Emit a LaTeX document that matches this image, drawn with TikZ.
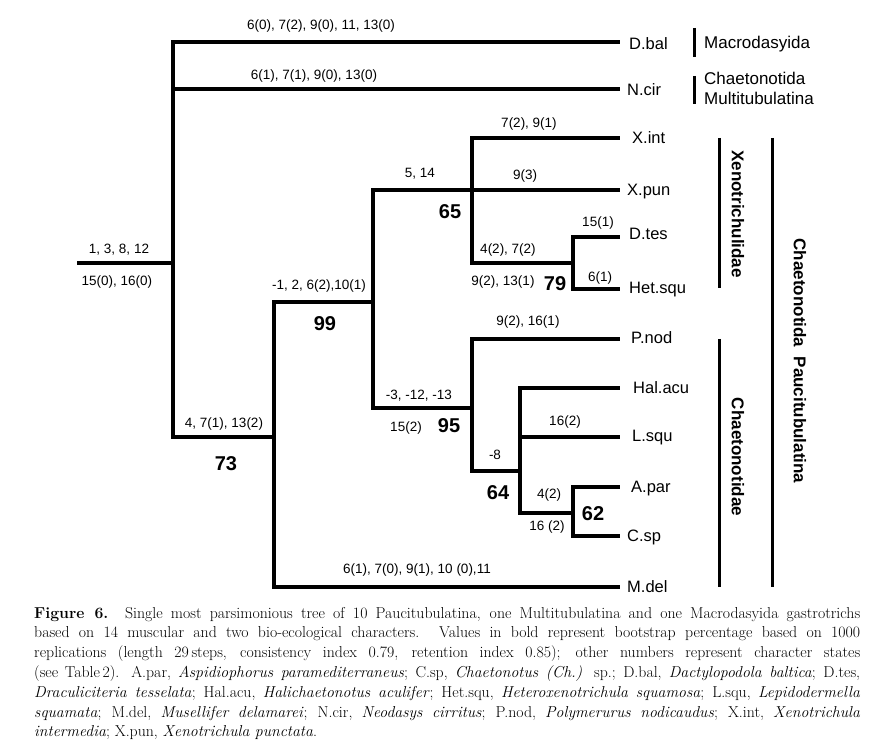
\documentclass[tikz,border=0pt]{standalone}
\usepackage{fontspec}
\newfontfamily\arialf{Liberation Sans}
\tikzset{
  br/.style={line width=3.6pt},
  bar/.style={line width=3pt},
  chr/.style={font=\arialf\fontsize{13.5}{16}\selectfont, inner sep=0pt, text height=9.7pt, text depth=0pt},
  boot/.style={font=\arialf\bfseries\fontsize{20}{24}\selectfont, inner sep=0pt, text height=14.3pt, text depth=0pt},
  taxon/.style={font=\arialf\fontsize{16.5}{20}\selectfont, anchor=west, inner sep=0pt, text height=11.8pt, text depth=0pt},
  grp/.style={font=\arialf\fontsize{17}{20}\selectfont, anchor=west, inner sep=0pt, text height=12.2pt, text depth=0pt},
  vgrp/.style={font=\arialf\bfseries\fontsize{17}{20}\selectfont, rotate=-90, inner sep=0pt, text height=12.2pt, text depth=0pt},
}
\begin{document}
\begin{tikzpicture}[x=1pt,y=-1pt]
\useasboundingbox (0,0) rectangle (871,746);
% internal nodes
\coordinate (r0) at (77,263);
\coordinate (root) at (173,263);
\coordinate (n73) at (274,437);
\coordinate (n99) at (373,302);
\coordinate (n65) at (472,190);
\coordinate (n79) at (573,263);
\coordinate (n95) at (472,408);
\coordinate (n64) at (520,471);
\coordinate (n62) at (573,513);
% tips
\coordinate (tDbal) at (620,42);
\coordinate (tNcir) at (620,89);
\coordinate (tXint) at (620,138);
\coordinate (tXpun) at (620,190);
\coordinate (tDtes) at (620,237);
\coordinate (tHet) at (620,289);
\coordinate (tPnod) at (620,339);
\coordinate (tHal) at (620,388);
\coordinate (tLsq) at (620,437);
\coordinate (tApar) at (620,487);
\coordinate (tCsp) at (620,536);
\coordinate (tMdel) at (620,587);
% branches
\draw[br] (r0) -- (root);
\draw[br] (root) |- (tDbal);
\draw[br] (root) |- (tNcir);
\draw[br] (root) |- (n73);
\draw[br] (n73) |- (n99);
\draw[br] (n73) |- (tMdel);
\draw[br] (n99) |- (n65);
\draw[br] (n99) |- (n95);
\draw[br] (n65) |- (tXint);
\draw[br] (n65) -- (tXpun);
\draw[br] (n65) |- (n79);
\draw[br] (n79) |- (tDtes);
\draw[br] (n79) |- (tHet);
\draw[br] (n95) |- (tPnod);
\draw[br] (n95) |- (n64);
\draw[br] (n64) |- (tHal);
\draw[br] (n64) |- (tLsq);
\draw[br] (n64) |- (n62);
\draw[br] (n62) |- (tApar);
\draw[br] (n62) |- (tCsp);
% taxa
\node[taxon] (Dbal) at (629,44) {D.bal};
\node[taxon] (Ncir) at (627,90) {N.cir};
\node[taxon] (Xint) at (632,138) {X.int};
\node[taxon] (Xpun) at (627,190) {X.pun};
\node[taxon] (Dtes) at (629,234) {D.tes};
\node[taxon] (Het) at (629,288) {Het.squ};
\node[taxon] (Pnod) at (631,338) {P.nod};
\node[taxon] (Hal) at (633,388) {Hal.acu};
\node[taxon] (Lsq) at (632,436) {L.squ};
\node[taxon] (Apar) at (631,487) {A.par};
\node[taxon] (Csp) at (627,536) {C.sp};
\node[taxon] (Mdel) at (627,587) {M.del};
% character labels
\node[chr] (c1) at (119,249) {1, 3, 8, 12};
\node[chr] (c2) at (117,281) {15(0), 16(0)};
\node[chr] (c3) at (321,25) {6(0), 7(2), 9(0), 11, 13(0)};
\node[chr] (c4) at (314,75) {6(1), 7(1), 9(0), 13(0)};
\node[chr] (c5) at (224,423) {4, 7(1), 13(2)};
\node[chr] (c6) at (319,285) {-1, 2, 6(2),10(1)};
\node[chr] (c7) at (420,173) {5, 14};
\node[chr] (c8) at (529,123) {7(2), 9(1)};
\node[chr] (c9) at (525,175) {9(3)};
\node[chr] (c10) at (508,249) {4(2), 7(2)};
\node[chr] (c11) at (503,281) {9(2), 13(1)};
\node[chr] (c12) at (598,222) {15(1)};
\node[chr] (c13) at (600,277) {6(1)};
\node[chr] (c14) at (528,321) {9(2), 16(1)};
\node[chr] (c15) at (419,395) {-3, -12, -13};
\node[chr] (c16) at (406,427) {15(2)};
\node[chr] (c17) at (495,455) {-8};
\node[chr] (c18) at (565,421) {16(2)};
\node[chr] (c19) at (549,494) {4(2)};
\node[chr] (c20) at (547,526) {16 (2)};
\node[chr] (c21) at (417,569) {6(1), 7(0), 9(1), 10 (0),11};
% bootstrap
\node[boot] (b65) at (450,211) {65};
\node[boot] (b99) at (325,323) {99};
\node[boot] (b73) at (226,463) {73};
\node[boot] (b79) at (555,283) {79};
\node[boot] (b95) at (449,425) {95};
\node[boot] (b64) at (498,492) {64};
\node[boot] (b62) at (593,513) {62};
% group bars
\coordinate (gA1) at (694,28); \coordinate (gA2) at (694,57);
\coordinate (gB1) at (694,76); \coordinate (gB2) at (694,104);
\coordinate (gC1) at (719,138); \coordinate (gC2) at (719,288);
\coordinate (gD1) at (719,339); \coordinate (gD2) at (719,587);
\coordinate (gE1) at (772,138); \coordinate (gE2) at (772,587);
\draw[bar] (gA1) -- (gA2);
\draw[bar] (gB1) -- (gB2);
\draw[bar] (gC1) -- (gC2);
\draw[bar] (gD1) -- (gD2);
\draw[bar] (gE1) -- (gE2);
\node[grp] (Macro) at (704,42) {Macrodasyida};
\node[grp] (Chae) at (704,78) {Chaetonotida};
\node[grp] (Multi) at (704,98) {Multitubulatina};
\node[vgrp] (Xeno) at (738,214) {Xenotrichulidae};
\node[vgrp] (Chdae) at (738,457) {Chaetonotidae};
\node[vgrp] (Pauci) at (800,361) {Chaetonotida\ \ Paucitubulatina};
% caption
\node[anchor=base west, inner sep=0pt] (cap) at (34,618) {\parbox[t]{826pt}{\fontsize{15.8}{19.8}\selectfont\noindent
\makebox[826pt][s]{\textbf{Figure 6.} Single most parsimonious tree of 10 Paucitubulatina, one Multitubulatina and one Macrodasyida gastrotrichs}\\
\makebox[826pt][s]{based on 14 muscular and two bio-ecological characters. Values in bold represent bootstrap percentage based on 1000}\\
\makebox[826pt][s]{replications (length 29\,steps, consistency index 0.79, retention index 0.85); other numbers represent character states}\\
\makebox[826pt][s]{(see Table\,2). A.par, \textit{Aspidiophorus paramediterraneus}; C.sp, \textit{Chaetonotus (Ch.)} sp.; D.bal, \textit{Dactylopodola baltica}; D.tes,}\\
\makebox[826pt][s]{\textit{Draculiciteria tesselata}; Hal.acu, \textit{Halichaetonotus aculifer}; Het.squ, \textit{Heteroxenotrichula squamosa}; L.squ, \textit{Lepidodermella}}\\
\makebox[826pt][s]{\textit{squamata}; M.del, \textit{Musellifer delamarei}; N.cir, \textit{Neodasys cirritus}; P.nod, \textit{Polymerurus nodicaudus}; X.int, \textit{Xenotrichula}}\\
\makebox[826pt][l]{\textit{intermedia}; X.pun, \textit{Xenotrichula punctata}.}}};
\end{tikzpicture}
\end{document}
